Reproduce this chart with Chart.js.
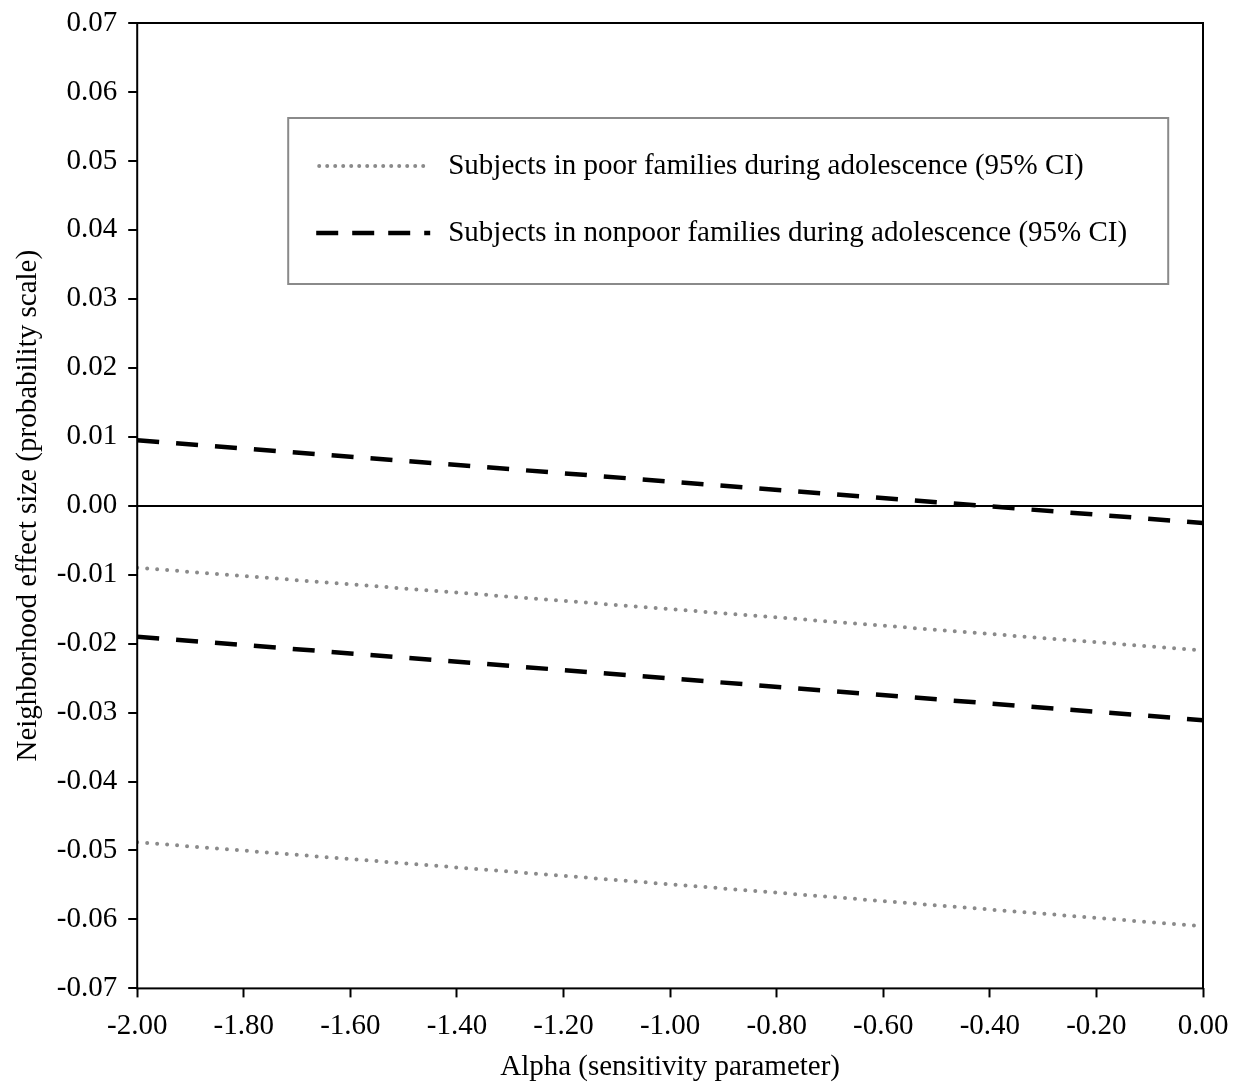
<!DOCTYPE html>
<html>
<head>
<meta charset="utf-8">
<script src="https://cdn.jsdelivr.net/npm/chart.js@4.4.1/dist/chart.umd.min.js"></script>
<style>
  html, body { margin: 0; padding: 0; background: #fff; }
  #wrap { width: 1236px; height: 1082px; }
</style>
</head>
<body>
<div id="wrap"><canvas id="grafico"></canvas></div>
<script>
// data ---------------------------------------------------------------
const alpha = [-2.0, 0.0]
const poorUpper = [-0.0090, -0.0210]
const poorLower = [-0.0488, -0.0610]
const nonpoorUpper = [0.0095, -0.0025]
const nonpoorLower = [-0.0190, -0.0311]

const legendLabels = [
  'Subjects in poor families during adolescence (95% CI)',
  'Subjects in nonpoor families during adolescence (95% CI)'
]

const fonte = 'Liberation Serif'
const tam = 29
const cinza = '#8a8a8a'

function pontos(ys) {
  return alpha.map((x, i) => ({ x: x, y: ys[i] }))
}

function pontilhado(ys) {
  return {
    data: pontos(ys),
    borderColor: cinza,
    borderWidth: 4,
    borderDash: [0, 10],
    borderCapStyle: 'round',
    pointRadius: 0,
    fill: false
  }
}

function tracejado(ys) {
  return {
    data: pontos(ys),
    borderColor: '#000',
    borderWidth: 4.5,
    borderDash: [22, 17],
    borderCapStyle: 'butt',
    pointRadius: 0,
    fill: false
  }
}

// moldura e legenda desenhadas a mao
const moldura = {
  id: 'moldura',
  afterDatasetsDraw(chart) {
    const c = chart.ctx
    const a = chart.chartArea
    c.save()
    c.strokeStyle = '#000'
    c.lineWidth = 2
    c.setLineDash([])
    c.strokeRect(a.left, a.top, a.right - a.left, a.bottom - a.top)

    // legenda
    const lx = a.left + 151, ly = a.top + 95
    c.strokeStyle = cinza
    c.lineWidth = 2
    c.strokeRect(lx, ly, 880, 166)

    c.lineWidth = 4
    c.strokeStyle = cinza
    c.lineCap = 'round'
    c.setLineDash([0, 8])
    c.beginPath(); c.moveTo(lx + 31, ly + 48); c.lineTo(lx + 142, ly + 48); c.stroke()

    c.lineWidth = 4.5
    c.strokeStyle = '#000'
    c.lineCap = 'butt'
    c.setLineDash([22, 14])
    c.beginPath(); c.moveTo(lx + 28, ly + 115); c.lineTo(lx + 142, ly + 115); c.stroke()

    c.setLineDash([])
    c.fillStyle = '#000'
    c.font = tam + 'px "' + fonte + '"'
    c.textBaseline = 'middle'
    c.fillText(legendLabels[0], lx + 160, ly + 48)
    c.fillText(legendLabels[1], lx + 160, ly + 115)
    c.restore()
  }
}

const config = {
  type: 'line',
  data: {
    datasets: [
      pontilhado(poorUpper),
      pontilhado(poorLower),
      tracejado(nonpoorUpper),
      tracejado(nonpoorLower)
    ]
  },
  options: {
    responsive: true,
    maintainAspectRatio: false,
    animation: false,
    layout: { padding: { top: 23, right: 33, left: 11, bottom: -3 } },
    plugins: { legend: false, tooltip: { enabled: false } },
    scales: {
      x: {
        type: 'linear',
        min: -2,
        max: 0,
        border: { display: false },
        afterFit: s => { s.paddingLeft = 0; s.paddingRight = 0 },
        grid: {
          drawOnChartArea: false,
          tickLength: 9,
          tickColor: '#000',
          tickWidth: 2
        },
        ticks: {
          stepSize: 0.2,
          color: '#000',
          font: { family: fonte, size: tam },
          padding: 12,
          maxRotation: 0,
          callback: v => v.toFixed(2)
        },
        title: {
          display: true,
          text: 'Alpha (sensitivity parameter)',
          color: '#000',
          font: { family: fonte, size: tam },
          padding: { top: -6, bottom: 0 }
        }
      },
      y: {
        min: -0.07,
        max: 0.07,
        border: { display: false },
        afterFit: s => { s.paddingTop = 0; s.paddingBottom = 0 },
        grid: {
          color: ctx => Math.abs(ctx.tick.value) < 1e-9 ? '#000' : 'rgba(0,0,0,0)',
          lineWidth: 2,
          tickLength: 9,
          tickColor: '#000',
          tickWidth: 2
        },
        ticks: {
          stepSize: 0.01,
          color: '#000',
          font: { family: fonte, size: tam },
          padding: 11,
          callback: v => v.toFixed(2)
        },
        title: {
          display: true,
          text: 'Neighborhood effect size (probability scale)',
          color: '#000',
          font: { family: fonte, size: tam },
          padding: { top: 0, bottom: 0 }
        }
      }
    }
  },
  plugins: [moldura]
}

new Chart(document.getElementById('grafico').getContext('2d'), config)
</script>
</body>
</html>
